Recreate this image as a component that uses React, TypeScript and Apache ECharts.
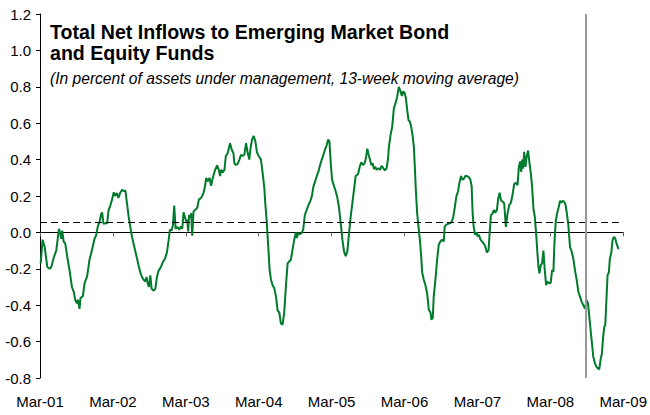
import React, { useEffect, useRef } from "react";
import * as echarts from "echarts";

// Years elapsed since March 2001 (weekly 13-week moving average readings)
const yearsSinceMar01: number[] = [
  0.009, 0.036, 0.064, 0.1, 0.132, 0.155, 0.191, 0.223, 0.246, 0.26, 0.278, 0.292, 0.305, 0.324, 0.346, 0.374,
  0.406, 0.438, 0.465, 0.483, 0.506, 0.52, 0.542, 0.556, 0.588, 0.611, 0.647, 0.679, 0.711, 0.748, 0.77, 0.793,
  0.816, 0.839, 0.852, 0.871, 0.898, 0.921, 0.939, 0.966, 0.985, 1.012, 1.03, 1.053, 1.076, 1.098, 1.126, 1.149,
  1.171, 1.194, 1.217, 1.24, 1.263, 1.294, 1.326, 1.349, 1.376, 1.399, 1.422, 1.445, 1.463, 1.477, 1.495, 1.513,
  1.531, 1.559, 1.582, 1.604, 1.627, 1.659, 1.686, 1.714, 1.741, 1.764, 1.782, 1.805, 1.823, 1.841, 1.86, 1.887,
  1.91, 1.933, 1.951, 1.969,
  2.005, 2.019, 2.033, 2.046, 2.06, 2.074, 2.088, 2.106, 2.129, 2.156, 2.179, 2.211, 2.242, 2.265, 2.279, 2.302,
  2.325, 2.347, 2.37, 2.402, 2.429, 2.452, 2.47, 2.484, 2.507, 2.53, 2.548, 2.575, 2.607, 2.63, 2.653, 2.666,
  2.689, 2.712, 2.735, 2.757, 2.78, 2.803, 2.826, 2.849, 2.871, 2.885, 2.908, 2.931, 2.954, 2.976, 2.999, 3.031,
  3.054, 3.077, 3.09, 3.108, 3.122, 3.136, 3.149, 3.168, 3.191, 3.213, 3.236, 3.259, 3.282, 3.304, 3.327, 3.35,
  3.373, 3.396, 3.418, 3.441, 3.464, 3.487, 3.51, 3.523, 3.541, 3.564, 3.587, 3.61, 3.633, 3.66, 3.683, 3.706,
  3.728, 3.751, 3.774, 3.797, 3.82, 3.842, 3.865, 3.888, 3.911, 3.933, 3.952, 3.97, 3.988, 4.006, 4.034,
  4.057, 4.079, 4.102, 4.125, 4.148, 4.17, 4.193, 4.216, 4.239, 4.262, 4.284, 4.307, 4.33, 4.362, 4.389, 4.407,
  4.43, 4.453, 4.471, 4.489, 4.508, 4.526, 4.544, 4.562, 4.581, 4.599, 4.617, 4.64, 4.663, 4.686, 4.708, 4.731,
  4.754, 4.772, 4.786, 4.809, 4.831, 4.854, 4.877, 4.9, 4.922, 4.945, 4.964, 4.982, 5.0, 5.018, 5.036, 5.055,
  5.073, 5.091, 5.109, 5.128, 5.141, 5.155, 5.173, 5.191, 5.21, 5.228, 5.242, 5.264, 5.287, 5.31, 5.333, 5.356,
  5.369, 5.387, 5.401, 5.424, 5.447, 5.469, 5.492, 5.515, 5.538, 5.551, 5.574, 5.597, 5.62, 5.643, 5.666, 5.688,
  5.711, 5.734, 5.757, 5.775, 5.793, 5.811, 5.834, 5.857, 5.88, 5.903, 5.921, 5.934, 5.948, 5.966, 5.984, 6.003,
  6.021, 6.039, 6.062, 6.085, 6.107, 6.13,
  6.153, 6.167, 6.185, 6.208, 6.226, 6.244, 6.267, 6.285, 6.304, 6.322, 6.345, 6.367, 6.39, 6.413, 6.436, 6.459,
  6.481, 6.504, 6.527, 6.55, 6.568, 6.586, 6.6, 6.614, 6.627, 6.641, 6.659, 6.677, 6.695, 6.714, 6.732, 6.75,
  6.768, 6.787, 6.805, 6.823, 6.837, 6.851, 6.869, 6.887, 6.905, 6.923, 6.942, 6.96, 6.983, 7.005, 7.024, 7.042,
  7.056, 7.074, 7.092, 7.115, 7.133, 7.151, 7.17, 7.188, 7.206, 7.224, 7.247, 7.27, 7.293, 7.315, 7.338, 7.361,
  7.384, 7.407, 7.429, 7.452, 7.475, 7.498, 7.516, 7.534, 7.552, 7.571, 7.589, 7.612, 7.634, 7.657, 7.671, 7.689,
  7.707, 7.725, 7.739, 7.753, 7.771, 7.785, 7.803, 7.817, 7.835, 7.853, 7.872, 7.89, 7.908, 7.931, 7.94,
];

// Net inflows, percent of assets under management
const netInflows: number[] = [
  -0.17, -0.04, -0.08, -0.19, -0.2, -0.19, -0.135, -0.1, -0.026, 0.02, -0.007, -0.035, 0.01, -0.05, -0.06, -0.135,
  -0.21, -0.3, -0.33, -0.37, -0.39, -0.37, -0.42, -0.36, -0.35, -0.28, -0.24, -0.15, -0.1, -0.035, -0.016, 0.033,
  0.057, 0.1, 0.11, 0.048, 0.05, 0.05, 0.12, 0.15, 0.176, 0.22, 0.2, 0.216, 0.19, 0.216, 0.234, 0.227,
  0.23, 0.157, 0.084, 0.026, -0.026, -0.08, -0.135, -0.176, -0.22, -0.245, -0.26, -0.27, -0.245, -0.28, -0.3, -0.236,
  -0.31, -0.32, -0.31, -0.245, -0.21, -0.19, -0.163, -0.145, -0.11, -0.044, 0.015, 0.011, 0.038, 0.148, 0.02, 0.03,
  0.015, 0.033, 0.02, 0.11,
  0.06, 0.07, 0.005, 0.097, 0.08, 0.106, -0.018, 0.115, 0.125, 0.134, 0.18, 0.19, 0.216, 0.256, 0.3, 0.28,
  0.3, 0.256, 0.3, 0.344, 0.368, 0.344, 0.31, 0.344, 0.33, 0.344, 0.418, 0.436, 0.49, 0.454, 0.436, 0.38,
  0.37, 0.377, 0.4, 0.427, 0.42, 0.427, 0.49, 0.436, 0.4, 0.454, 0.51, 0.53, 0.5, 0.44, 0.42, 0.4,
  0.326, 0.244, 0.16, 0.07, -0.022, -0.114, -0.205, -0.26, -0.29, -0.306, -0.35, -0.43, -0.44, -0.5, -0.507, -0.44,
  -0.297, -0.17, -0.16, -0.15, -0.095, -0.04, 0.0, -0.03, -0.004, -0.01, -0.004, 0.015, 0.097, 0.125, 0.152, 0.17,
  0.198, 0.253, 0.28, 0.31, 0.335, 0.37, 0.4, 0.427, 0.458, 0.48, 0.51, 0.5, 0.38, 0.29, 0.253,
  0.225, 0.19, 0.134, 0.05, -0.04, -0.104, -0.13, -0.104, -0.004, 0.088, 0.16, 0.234, 0.31, 0.32, 0.366, 0.385,
  0.37, 0.38, 0.41, 0.46, 0.427, 0.4, 0.37, 0.38, 0.348, 0.36, 0.344, 0.353, 0.344, 0.366, 0.353, 0.34,
  0.353, 0.4, 0.47, 0.537, 0.58, 0.683, 0.71, 0.747, 0.8, 0.775, 0.75, 0.775, 0.766, 0.74, 0.674, 0.615,
  0.61, 0.58, 0.537, 0.47, 0.363, 0.234, 0.106, 0.033, -0.04, -0.13, -0.22, -0.26, -0.29, -0.335, -0.425, -0.44,
  -0.48, -0.47, -0.35, -0.26, -0.15, -0.068, -0.05, -0.04, -0.05, 0.033, 0.042, 0.048, 0.05, 0.055, 0.08, 0.134,
  0.198, 0.225, 0.28, 0.31, 0.29, 0.293, 0.31, 0.31, 0.304, 0.29, 0.253, 0.106, 0.033, -0.013, 0.0, -0.022,
  -0.013, -0.037, -0.05, -0.06, -0.077, -0.11,
  -0.097, -0.005, 0.095, 0.104, 0.123, 0.108, 0.123, 0.187, 0.218, 0.178, 0.168, 0.16, 0.03, 0.104, 0.15, 0.163,
  0.205, 0.266, 0.273, 0.26, 0.36, 0.39, 0.333, 0.4, 0.35, 0.443, 0.36, 0.42, 0.45, 0.38, 0.324, 0.25,
  0.13, 0.086, -0.005, -0.115, -0.19, -0.225, -0.18, -0.17, -0.1, -0.205, -0.29, -0.27, -0.28, -0.277, -0.207, -0.216,
  -0.06, 0.06, 0.104, 0.14, 0.174, 0.163, 0.174, 0.168, 0.156, 0.113, 0.04, -0.08, -0.106, -0.143, -0.207, -0.26,
  -0.326, -0.353, -0.38, -0.4, -0.418, -0.37, -0.39, -0.46, -0.536, -0.61, -0.683, -0.72, -0.74, -0.747, -0.753, -0.7,
  -0.665, -0.573, -0.52, -0.51, -0.355, -0.234, -0.22, -0.143, -0.115, -0.042, -0.024, -0.033, -0.06, -0.088, -0.09,
];

const tickLabels: string[] = ["Mar-01", "Mar-02", "Mar-03", "Mar-04", "Mar-05", "Mar-06", "Mar-07", "Mar-08", "Mar-09"];
const averageLevel = 0.055;
const crisisMark = 7.48; // mid-September 2008
const dataEnd = 7.94;

const titleText = "Total Net Inflows to Emerging Market Bond\nand Equity Funds";
const subtitleText = "(In percent of assets under management, 13-week moving average)";

const FONT = "'Liberation Sans', Arial, Helvetica, sans-serif";

export default function App() {
  const ref = useRef<HTMLDivElement>(null);
  useEffect(() => {
    if (!ref.current) return;
    const chart = echarts.init(ref.current, undefined, { renderer: "svg" });
    const seriesData = yearsSinceMar01.map((t, i) => [t, netInflows[i]]);
    chart.setOption({
      animation: false,
      backgroundColor: "#ffffff",
      textStyle: { fontFamily: FONT },
      grid: { left: 40, right: 25, top: 14, bottom: 37, containLabel: false },
      graphic: [
        {
          type: "text",
          left: 50,
          top: 21,
          style: { text: titleText, font: `bold 19.6px ${FONT}`, fill: "#000", lineHeight: 21.5 },
        },
        {
          type: "text",
          left: 50,
          top: 70,
          style: { text: subtitleText, font: `italic 15.6px ${FONT}`, fill: "#000" },
        },
      ],
      xAxis: [
        {
          type: "value",
          min: 0,
          max: 8,
          interval: 1,
          position: "bottom",
          axisLine: { onZero: true, lineStyle: { color: "#000", width: 1 } },
          axisTick: { show: true, length: 4, inside: false, lineStyle: { color: "#666" } },
          axisLabel: { show: false },
          splitLine: { show: false },
        },
        {
          type: "value",
          min: 0,
          max: 8,
          interval: 1,
          position: "bottom",
          axisLine: { show: false, onZero: false },
          axisTick: { show: false },
          axisLabel: {
            show: true,
            margin: 16,
            fontSize: 15,
            color: "#000",
            fontFamily: FONT,
            formatter: (v: number) => tickLabels[Math.round(v)] ?? "",
          },
          splitLine: { show: false },
        },
      ],
      yAxis: {
        type: "value",
        min: -0.8,
        max: 1.2,
        interval: 0.2,
        axisLine: { show: true, lineStyle: { color: "#000", width: 1 } },
        axisTick: { show: true, length: 4, lineStyle: { color: "#000" } },
        axisLabel: {
          margin: 9,
          fontSize: 15,
          color: "#000",
          fontFamily: FONT,
          formatter: (v: number) => v.toFixed(1),
        },
        splitLine: { show: false },
      },
      series: [
        {
          type: "line",
          xAxisIndex: 0,
          data: seriesData,
          showSymbol: false,
          symbol: "none",
          lineStyle: { color: "#007a2c", width: 2 },
          z: 3,
          markLine: {
            silent: true,
            symbol: "none",
            label: { show: false },
            data: [
              [
                { coord: [0, averageLevel], lineStyle: { color: "#000", width: 1, type: [7, 4] } },
                { coord: [dataEnd, averageLevel] },
              ],
              [
                { coord: [crisisMark, -0.8], lineStyle: { color: "#999", width: 2, type: "solid" } },
                { coord: [crisisMark, 1.2] },
              ],
            ],
          },
        },
      ],
    });
    return () => chart.dispose();
  }, []);
  return <div ref={ref} style={{ width: 650, height: 415, position: "absolute", left: 0, top: 0 }} />;
}
